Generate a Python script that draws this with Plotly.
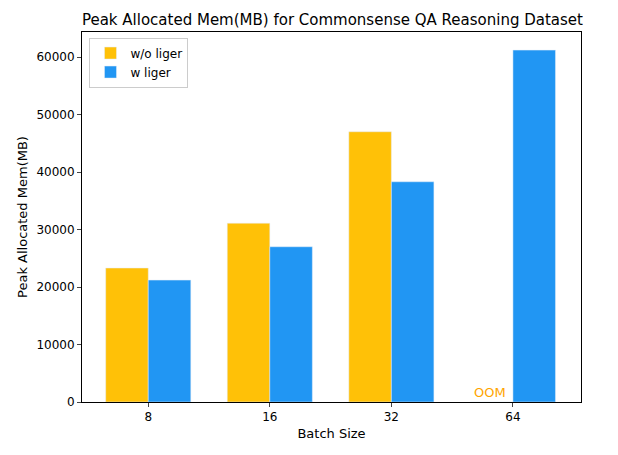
import plotly.graph_objects as go

batch_sizes = ["8", "16", "32", "64"]
without_liger = [23300, 31100, 47000, 0]
with_liger = [21200, 27000, 38300, 61200]
y_ticks = [0, 10000, 20000, 30000, 40000, 50000, 60000]

fig = go.Figure()
fig.add_trace(go.Bar(x=batch_sizes, y=without_liger, name="w/o liger", marker_color="#FFC107"))
fig.add_trace(go.Bar(x=batch_sizes, y=with_liger, name="w liger", marker_color="#2196F3"))

# OOM label where the w/o liger bar is missing
fig.add_annotation(x=3, xshift=-23, y=0, yanchor="bottom", text="OOM", showarrow=False,
                   font=dict(color="orange", size=13))

fig.update_layout(
    width=618, height=455,
    barmode="group", bargap=0.3, bargroupgap=0,
    plot_bgcolor="white", paper_bgcolor="white",
    font=dict(family="DejaVu Sans", size=12, color="black"),
    title=dict(text="Peak Allocated Mem(MB) for Commonsense QA Reasoning Dataset",
               x=0.525, xanchor="center", y=0.985, font=dict(size=15)),
    margin=dict(l=74, r=45, t=24, b=61),
    legend=dict(x=0.015, y=0.985, xanchor="left", yanchor="top",
                bordercolor="#cccccc", borderwidth=1, bgcolor="white",
                font=dict(size=12)),
    showlegend=True,
)
fig.update_xaxes(title=dict(text="Batch Size", standoff=5, font=dict(size=13)),
                 range=[-0.545, 3.56],
                 showline=True, mirror=True, linecolor="black",
                 ticks="outside", ticklen=4, showgrid=False)
fig.update_yaxes(title=dict(text="Peak Allocated Mem(MB)", standoff=5, font=dict(size=13)),
                 range=[0, 64350], tickvals=y_ticks, tickformat="d",
                 showline=True, mirror=True, linecolor="black",
                 ticks="outside", ticklen=4, showgrid=False, zeroline=False)

fig.write_html("out.html")
